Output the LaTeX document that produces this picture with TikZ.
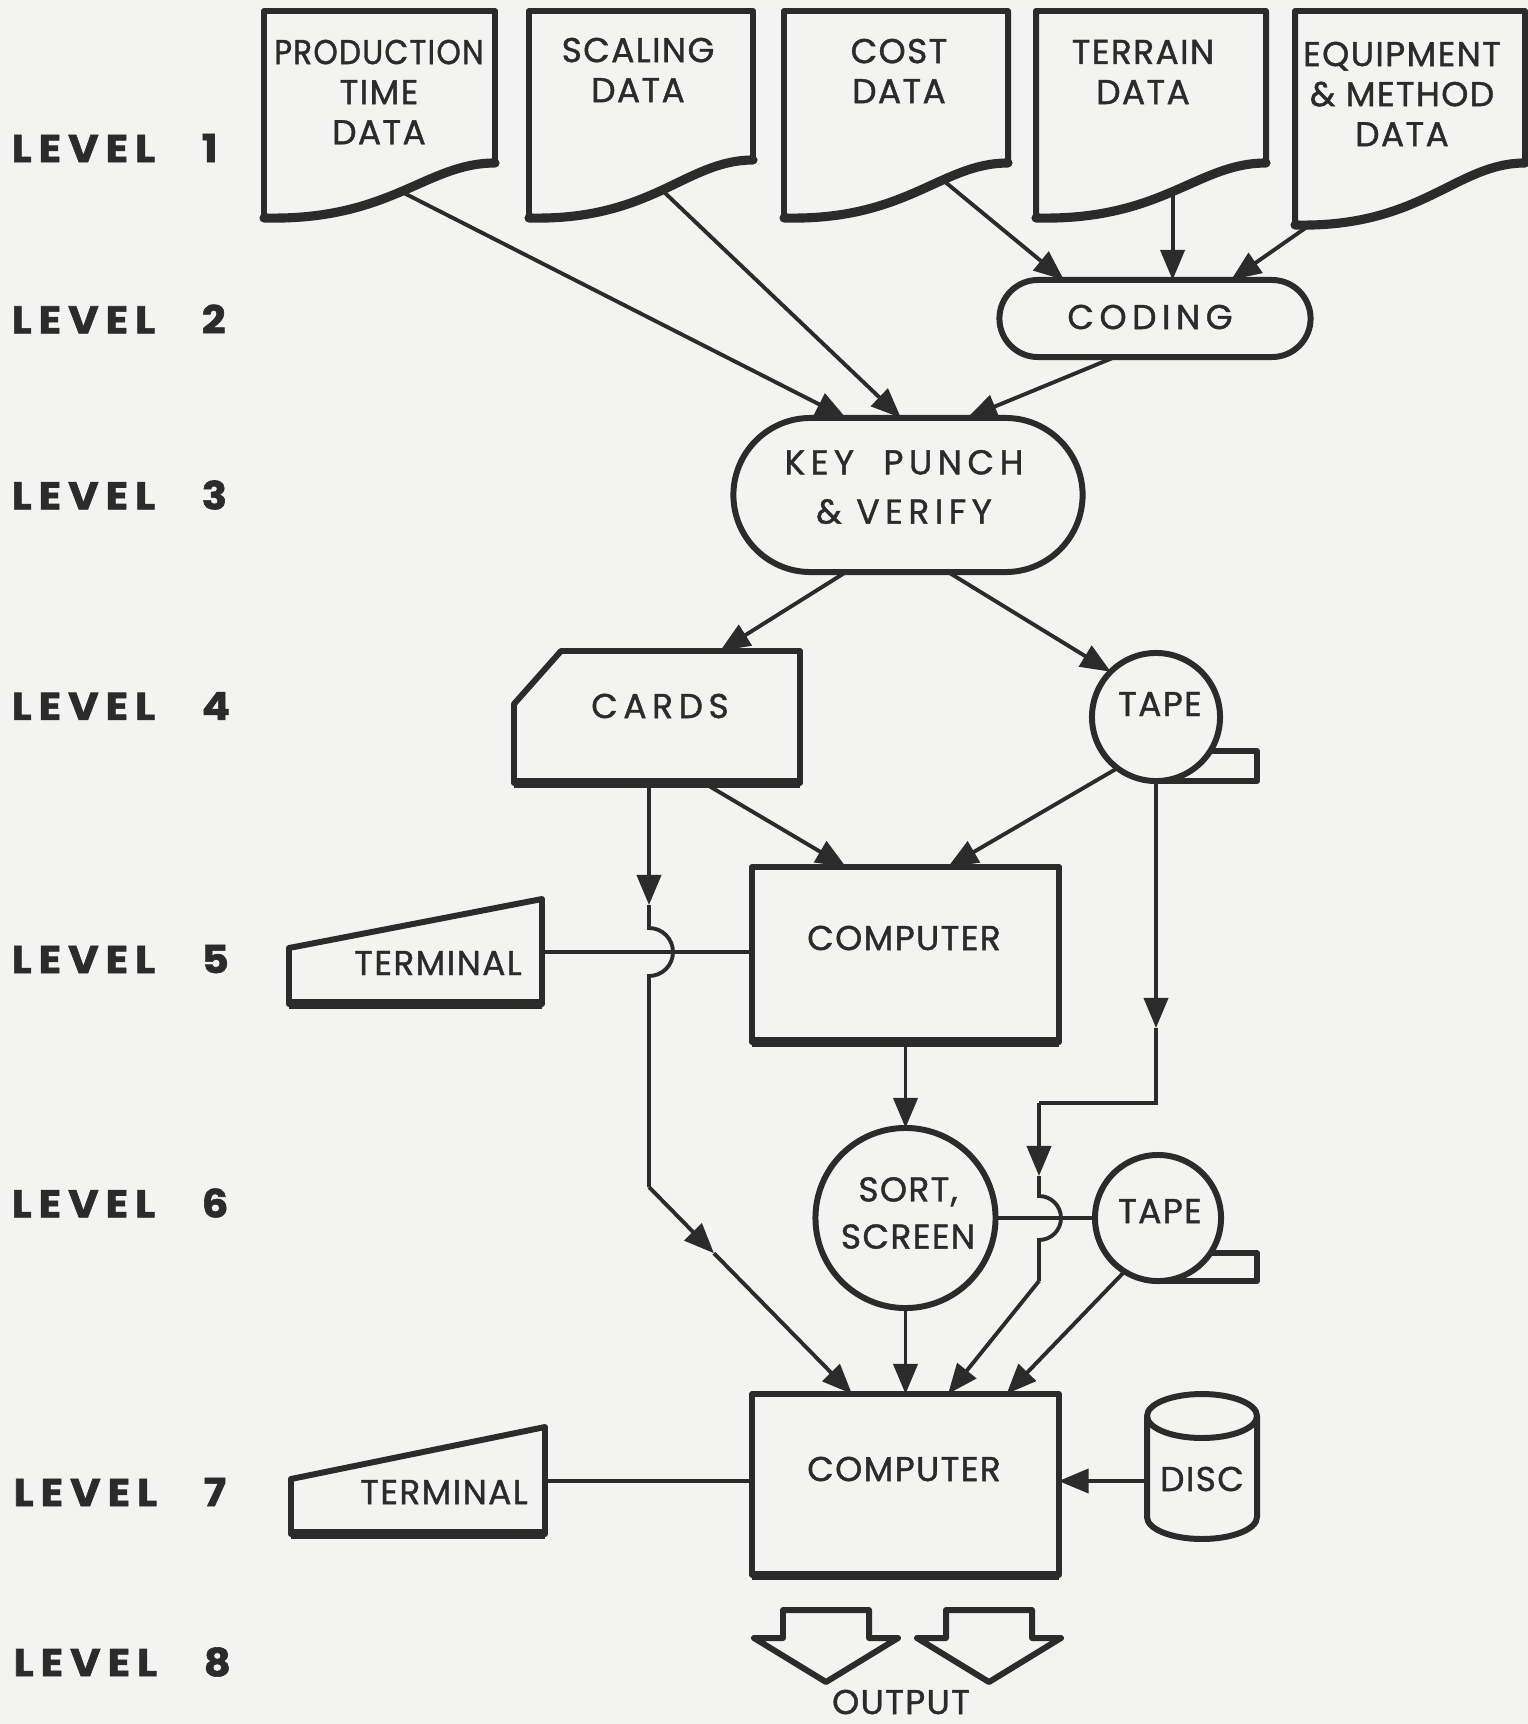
\documentclass[tikz,border=0pt]{standalone}
\usepackage{fontspec}
\setmainfont{Poppins}
\newfontfamily\labfont{Poppins}[LetterSpace=4, FakeBold=1.2]
\newfontfamily\widefont{Poppins}[LetterSpace=16, FakeBold=1.2]
\newfontfamily\lvlfont{Poppins}[LetterSpace=18, FakeStretch=1.08, FakeBold=1.5]
\usetikzlibrary{arrows.meta,shapes.misc,calc}
\definecolor{ink}{HTML}{2B2B2B}
\definecolor{paper}{HTML}{F3F3F1}
\tikzset{
  shp/.style={draw=ink, line width=1.7pt, line join=round},
  thk/.style={draw=ink, line width=2.6pt},
  nshp/.style={shp, outer sep=0pt, inner sep=0pt},
  conn/.style={draw=ink, line width=1.1pt},
  arr/.style={conn, -{Triangle[length=0.3cm, width=0.24cm]}},
  txt/.style={text=ink, font=\labfont\fontsize{9.8}{11.4}\selectfont, align=center, inner sep=0pt},
  wtxt/.style={text=ink, font=\widefont\fontsize{9.8}{14}\selectfont, align=center, inner sep=0pt},
  lvl/.style={text=ink, font=\lvlfont\bfseries\fontsize{11}{13}\selectfont, anchor=west, inner sep=0pt},
}
% #1 name of out point, #2 L, #3 T, #4 R, #5 Lb, #6 Rb, #7 pos of out point
\newcommand{\docshape}[7]{%
  \draw[shp] (#2,#5) -- (#2,#3) -- (#4,#3) -- (#4,#6)
    .. controls ({#4-0.3*(#4-#2)},#6) and ({#2+0.55*(#4-#2)},{#5+3}) .. (#2,#5)
    coordinate[pos=#7] (#1) -- cycle;
  \draw[thk, line cap=round] (#4,#6)
    .. controls ({#4-0.3*(#4-#2)},#6) and ({#2+0.55*(#4-#2)},{#5+3}) .. (#2,#5);}
\begin{document}
\begin{tikzpicture}[x=0.01cm,y=-0.01cm]
\fill[paper] (0,0) rectangle (1528,1724);
\useasboundingbox (0,0) rectangle (1528,1724);

% level labels
\foreach \n/\y/\x in {1/148/11,2/319/11,3/495/11,4/706/11,5/959/11,6/1203/11,7/1492/13,8/1662/13}
  \node[lvl] (lvl\n) at (\x,\y) {\makebox[1.9cm][l]{LEVEL}\n};

% level 1 documents
\docshape{d1}{264}{11}{495}{218}{163}{0.5}
\node[txt] (d1t) at (379,92) {\scalebox{0.9}[1]{PRODUCTION}\\TIME\\DATA};
\docshape{d2}{529}{11}{753}{218}{160}{0.5}
\node[txt] (d2t) at (638,70) {SCALING\\DATA};
\docshape{d3}{784}{11}{1008}{218}{163}{0.36}
\node[txt] (d3t) at (899,71) {COST\\DATA};
\docshape{d4}{1036}{11}{1266}{218}{163}{0.5}
\node[txt] (d4t) at (1143,72) {TERRAIN\\DATA};
\docshape{d5}{1295}{11}{1525}{225}{163}{0.96}
\node[txt] (d5t) at (1402,94) {EQUIPMENT\\\& METHOD\\DATA};

% level 2
\node[nshp, rounded rectangle, minimum width=3.11cm, minimum height=0.77cm] (coding) at (1155,318.5) {};
\node[wtxt] (codingt) at (1150,317) {CODING};

% level 3
\node[nshp, rounded rectangle, minimum width=3.49cm, minimum height=1.54cm] (kp) at (908,495) {};
\node[wtxt] (kpt) at (904,487) {KEY\ \ PUNCH\\\& VERIFY};

% level 4
\draw[shp] (514,704) -- (561,651) -- (800,651) -- (800,783) -- (514,783) -- cycle;
\draw[thk] (514,783) -- (800,783);
\coordinate (cardsTop) at (720,651);
\coordinate (cardsB1) at (649,783);
\coordinate (cardsB2) at (704,783);
\node[wtxt] (cardst) at (660,706) {CARDS};

\node[nshp, circle, minimum size=1.28cm] (tape1) at (1156,717) {};
\coordinate (tail1) at ($(tape1.south)+(1.01cm,0)$);
\draw[shp] (tape1.-32) -- (tail1 |- tape1.-32) -- (tail1) -- (tape1.south);
\node[txt] (tape1t) at (1160,704) {TAPE};

% level 5
\draw[shp] (289,948) -- (542,899) -- (542,1004) -- (289,1004) -- cycle;
\draw[thk] (289,1004) -- (542,1004);
\coordinate (term1R) at (542,952);
\node[txt] (term1t) at (438,963) {TERMINAL};
\node[nshp, rectangle, minimum width=3.07cm, minimum height=1.75cm] (c1) at (905.5,954.5) {};
\draw[thk] (c1.south west) -- (c1.south east);
\node[txt] (c1t) at (904,938) {COMPUTER};

% level 6
\node[nshp, circle, minimum size=1.8cm] (sort) at (905.5,1218) {};
\node[txt, font=\labfont\fontsize{9.8}{13.4}\selectfont] (sortt) at (908,1213) {SORT,\\SCREEN};
\node[nshp, circle, minimum size=1.26cm] (tape2) at (1158,1218) {};
\coordinate (tail2) at ($(tape2.south)+(0.99cm,0)$);
\draw[shp] (tape2.-34) -- (tail2 |- tape2.-34) -- (tail2) -- (tape2.south);
\node[txt] (tape2t) at (1160,1211) {TAPE};

% level 7
\draw[shp] (291,1479) -- (545,1427) -- (545,1534) -- (291,1534) -- cycle;
\draw[thk] (291,1534) -- (545,1534);
\coordinate (term2R) at (545,1481);
\node[txt] (term2t) at (444,1492) {TERMINAL};
\node[nshp, rectangle, minimum width=3.06cm, minimum height=1.81cm] (c2) at (905.5,1484.5) {};
\draw[thk] (c2.south west) -- (c2.south east);
\node[txt] (c2t) at (904,1469) {COMPUTER};
\draw[shp] (1147,1416) -- (1147,1517) arc[start angle=180, end angle=0, x radius=55, y radius=22] -- (1257,1416);
\draw[shp] (1202,1416) ellipse[x radius=55, y radius=22];
\coordinate (discW) at (1147,1481);
\node[txt] (disct) at (1202,1479) {DISC};

% level 8
\foreach \cx/\nm in {826/o1,989/o2}
  \draw[shp] ({\cx-43},1610) -- ({\cx+43},1610) -- ({\cx+43},1638) -- ({\cx+72},1638) -- (\cx,1682) -- ({\cx-72},1638) -- ({\cx-43},1638) -- cycle;
\node[txt] (outt) at (901,1702) {OUTPUT};

% connectors
\draw[arr] (d1) -- ([xshift=-0.62cm]kp.north);
\draw[arr] (d2) -- ([xshift=-0.07cm]kp.north);
\draw[arr] ([xshift=-0.40cm]coding.south) -- ([xshift=0.59cm]kp.north);
\draw[arr] (d3) -- ([xshift=-0.91cm]coding.north);
\draw[arr] (d4) -- (d4 |- coding.north);
\draw[arr] (d5) -- ([xshift=0.76cm]coding.north);
\draw[arr] ([xshift=-0.62cm]kp.south) -- (cardsTop);
\draw[arr] ([xshift=0.40cm]kp.south) -- (tape1.135);
\draw[arr] (cardsB2) -- ([xshift=-0.595cm]c1.north);
\draw[arr] (tape1.-127) -- ([xshift=0.425cm]c1.north);
\draw[conn] (term1R) -- (term1R -| c1.west);
\draw[arr] (c1.south) -- (sort.north);

% cards long line with bump
\coordinate (m1) at (649,905);
\coordinate (k1) at (649,1187);
\coordinate (c2a) at ($(c2.north)+(-0.535cm,0)$);
\coordinate (a1) at ($(k1)!0.32!(c2a)$);
\draw[arr] (cardsB1) -- (m1);
\draw[conn] (m1) -- (649,928) arc[start angle=-90, end angle=90, radius=24] -- (k1);
\draw[arr] (k1) -- (a1);
\draw[arr] (a1) -- (c2a);

% tape1 long line with bump
\coordinate (m2) at (1156,1028);
\coordinate (k2) at (1156,1103);
\coordinate (k3) at (1039,1103);
\coordinate (m3) at (1039,1176);
\coordinate (k4) at (1039,1281);
\draw[arr] (tape1.south) -- (m2);
\draw[conn] (m2) -- (k2) -- (k3);
\draw[arr] (k3) -- (m3);
\draw[conn] (m3) -- (1039,1196) arc[start angle=-90, end angle=90, radius=22] -- (k4);
\draw[arr] (k4) -- ([xshift=0.425cm]c2.north);

\draw[conn] (sort.east) -- (tape2.west);
\draw[arr] (sort.south) -- (c2.north);
\draw[arr] (tape2.-122) -- ([xshift=1.01cm]c2.north);
\draw[conn] (term2R) -- (term2R -| c2.west);
\draw[arr] (discW) -- (discW -| c2.east);
\end{tikzpicture}
\end{document}
